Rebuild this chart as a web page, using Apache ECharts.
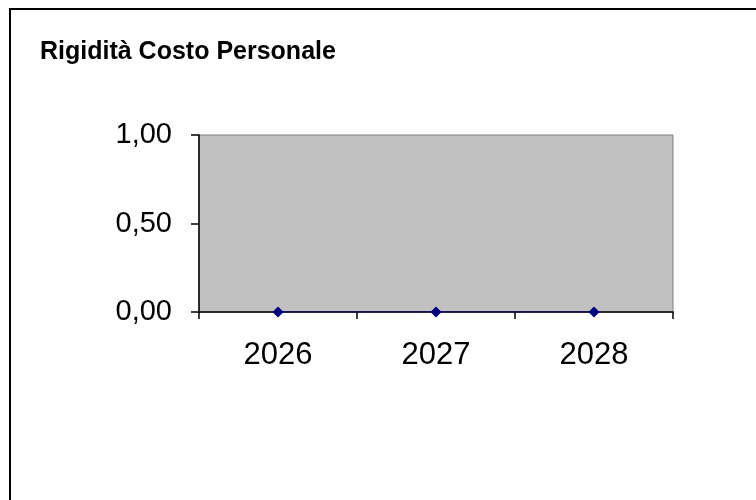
<!DOCTYPE html>
<html>
<head>
<meta charset="utf-8">
<script src="https://cdn.jsdelivr.net/npm/echarts@6/dist/echarts.min.js"></script>
<style>html,body{margin:0;padding:0;background:#fff}#c{width:756px;height:500px}</style>
</head>
<body>
<div id="c"></div>
<script>
const titleText = 'Rigidità Costo Personale';
const categories = ['2026', '2027', '2028'];
const values = [0, 0, 0];
const yTicks = [0, 0.5, 1];

const chart = echarts.init(document.getElementById('c'), null, {renderer: 'canvas'});
chart.setOption({
  animation: false,
  backgroundColor: '#ffffff',
  title: {
    text: titleText, left: 35, top: 35,
    textStyle: {fontFamily: 'Liberation Sans, Arial', fontWeight: 'bold', fontSize: 25, color: '#000'}
  },
  graphic: [
    {type: 'rect', shape: {x: 10, y: 9, width: 800, height: 600}, style: {fill: 'none', stroke: '#000', lineWidth: 2}, z: 100}
  ],
  grid: {left: 199, right: 83, top: 135, bottom: 188, show: true, backgroundColor: '#c0c0c0', borderColor: '#808080', borderWidth: 1},
  xAxis: {
    type: 'category', data: categories, boundaryGap: true,
    axisLine: {lineStyle: {color: '#000', width: 1.5}},
    axisTick: {show: true, length: 7, lineStyle: {color: '#000', width: 1.5}},
    axisLabel: {fontFamily: 'Liberation Sans, Arial', fontSize: 31, color: '#000', margin: 28}
  },
  yAxis: {
    type: 'value', min: yTicks[0], max: yTicks[yTicks.length - 1], interval: 0.5,
    axisLine: {show: true, lineStyle: {color: '#000', width: 1.5}},
    axisTick: {show: true, length: 8, lineStyle: {color: '#000', width: 1.5}},
    splitLine: {show: false},
    axisLabel: {fontFamily: 'Liberation Sans, Arial', fontSize: 29, color: '#000', margin: 27,
      formatter: v => v.toFixed(2).replace('.', ',')}
  },
  series: [{
    type: 'line', data: values, symbol: 'diamond', symbolSize: 11,
    itemStyle: {color: '#000080'}, lineStyle: {color: '#000080', width: 1}
  }]
});
</script>
</body>
</html>
